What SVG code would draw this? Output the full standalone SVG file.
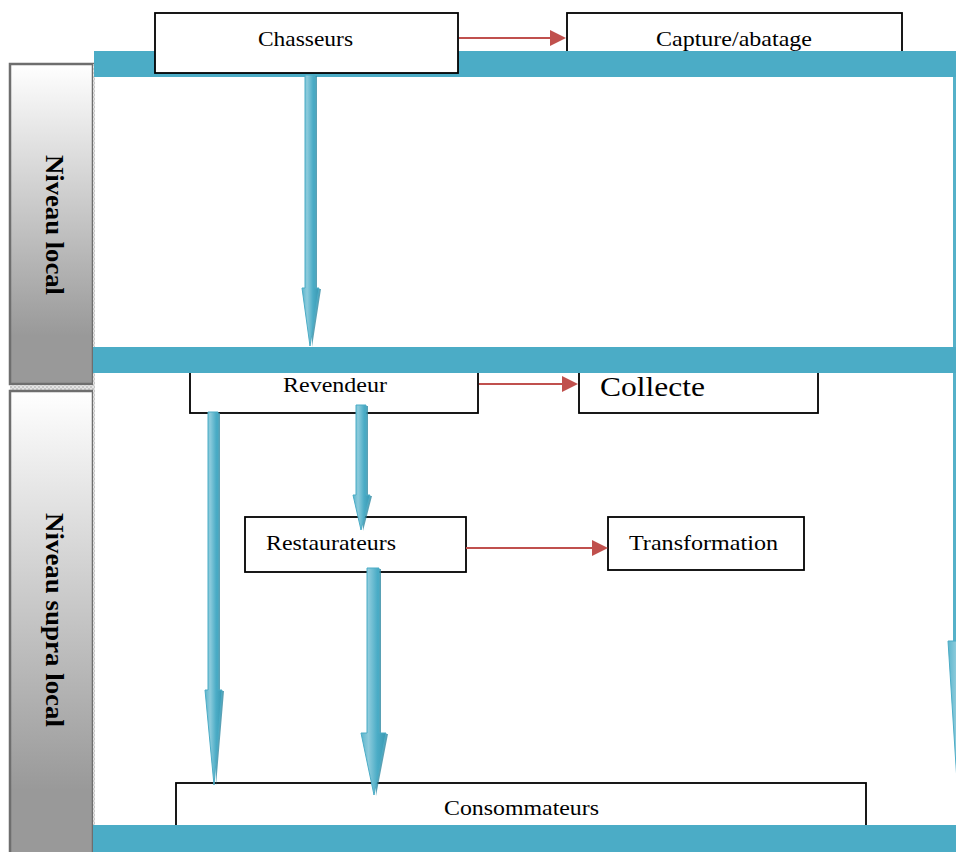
<svg xmlns="http://www.w3.org/2000/svg" width="956" height="852" viewBox="0 0 956 852">
<defs>
  <linearGradient id="panelGrad" x1="0" y1="0" x2="0" y2="1">
    <stop offset="0" stop-color="#ffffff"/>
    <stop offset="0.85" stop-color="#999999"/>
    <stop offset="1" stop-color="#999999"/>
  </linearGradient>
  <linearGradient id="arrowGrad" x1="0" y1="0" x2="1" y2="0">
    <stop offset="0" stop-color="#5db5cc"/>
    <stop offset="0.3" stop-color="#8ccbdc"/>
    <stop offset="0.65" stop-color="#4bacc6"/>
    <stop offset="1" stop-color="#3a98b2"/>
  </linearGradient>
  <pattern id="dots" width="4" height="4" patternUnits="userSpaceOnUse">
    <rect width="4" height="4" fill="#e4e4e4"/>
    <rect width="2" height="2" fill="#c8c8c8"/>
    <rect x="2" y="2" width="2" height="2" fill="#c8c8c8"/>
  </pattern>
  <marker id="redHead" markerUnits="userSpaceOnUse" markerWidth="17" markerHeight="17" refX="1" refY="8" orient="auto">
    <path d="M0,0 L16,8 L0,16 Z" fill="#c0504d"/>
  </marker>
</defs>
<style>
  .box { fill: #ffffff; stroke: #000000; stroke-width: 1.8; }
  .lbl { font-family: "Liberation Serif", "Times New Roman", serif; font-size: 22px; fill: #000000; }
  .big { font-size: 28px; }
  .lane { font-family: "Liberation Serif", "Times New Roman", serif; font-size: 26px; font-weight: bold; fill: #000000; }
  .panel { fill: url(#panelGrad); stroke: #6e6e6e; stroke-width: 2.5; }
  .band { fill: #4bacc6; }
  .edge { fill: #55b1c9; }
  .red { stroke: #c0504d; stroke-width: 2.2; fill: none; marker-end: url(#redHead); }
  .blue { fill: url(#arrowGrad); stroke: #4bacc6; stroke-width: 1; }
  .shadow { fill: #2f8aa3; opacity: 0.8; }
</style>
<rect width="956" height="852" fill="#ffffff"/>

<g id="lanes">
  <rect x="10" y="64" width="83" height="320" class="panel"/>
  <rect x="10" y="385.5" width="83" height="5" fill="url(#dots)"/>
  <rect x="10" y="391" width="83" height="470" class="panel"/>
  <rect x="93" y="64" width="2" height="788" fill="url(#dots)"/>
  <text class="lane" transform="translate(46,225) rotate(90)" text-anchor="middle" textLength="140" lengthAdjust="spacingAndGlyphs">Niveau local</text>
  <text class="lane" transform="translate(46,620) rotate(90)" text-anchor="middle" textLength="214" lengthAdjust="spacingAndGlyphs">Niveau supra local</text>
</g>

<g id="node-capture">
  <rect x="567" y="13" width="335" height="50" class="box"/>
  <text class="lbl" x="656" y="46" textLength="156" lengthAdjust="spacingAndGlyphs">Capture/abatage</text>
</g>
<g id="node-revendeur">
  <rect x="190" y="360" width="288" height="53" class="box"/>
  <text class="lbl" x="283" y="392" textLength="104" lengthAdjust="spacingAndGlyphs">Revendeur</text>
</g>
<g id="node-collecte">
  <rect x="579" y="360" width="239" height="53" class="box"/>
  <text class="lbl big" x="600" y="396" textLength="105" lengthAdjust="spacingAndGlyphs">Collecte</text>
</g>
<g id="node-consommateurs">
  <rect x="176" y="783" width="690" height="60" class="box"/>
  <text class="lbl" x="444" y="815" textLength="155" lengthAdjust="spacingAndGlyphs">Consommateurs</text>
</g>

<g id="bands">
  <rect x="94" y="51" width="862" height="26" class="band"/>
  <rect x="93" y="347" width="863" height="26" class="band"/>
  <rect x="93" y="825" width="863" height="27" class="band"/>
</g>

<g id="node-chasseurs">
  <rect x="155" y="13" width="303" height="60" class="box"/>
  <text class="lbl" x="258" y="46" textLength="95" lengthAdjust="spacingAndGlyphs">Chasseurs</text>
</g>
<g id="node-restaurateurs">
  <rect x="245" y="517" width="221" height="55" class="box"/>
  <text class="lbl" x="266" y="550" textLength="130" lengthAdjust="spacingAndGlyphs">Restaurateurs</text>
</g>
<g id="node-transformation">
  <rect x="608" y="517" width="196" height="53" class="box"/>
  <text class="lbl" x="629" y="550" textLength="149" lengthAdjust="spacingAndGlyphs">Transformation</text>
</g>

<g id="connectors">
  <g id="flow-chasseurs-revendeur">
    <polygon class="shadow" points="308,76 317,76 317,289 321,289 312,347"/>
    <polygon class="blue" points="305,75 315,75 315,288 319,288 310,346 302,288 305,288"/>
  </g>
  <g id="flow-revendeur-consommateurs">
    <polygon class="shadow" points="211,413 220,413 220,691 224,691 216,786"/>
    <polygon class="blue" points="208,412 218,412 218,690 222,690 214,785 205,690 208,690"/>
  </g>
  <g id="flow-revendeur-restaurateurs">
    <polygon class="shadow" points="359,406 368,406 368,496 372,496 363,531"/>
    <polygon class="blue" points="356,405 366,405 366,495 370,495 361,530 353,495 356,495"/>
  </g>
  <g id="flow-restaurateurs-consommateurs">
    <polygon class="shadow" points="370,569 381,569 381,734 388,734 376,796"/>
    <polygon class="blue" points="367,568 379,568 379,733 386,733 374,795 361,733 367,733"/>
  </g>
  <g id="flow-right-edge">
    <rect x="953" y="77" width="3" height="270" class="edge"/>
    <rect x="953" y="373" width="3" height="268" class="edge"/>
    <polygon class="blue" points="948,641 975,641 958,797"/>
  </g>
  <line class="red" x1="459" y1="38" x2="551" y2="38"/>
  <line class="red" x1="479" y1="384" x2="563" y2="384"/>
  <line class="red" x1="466" y1="548" x2="593" y2="548"/>
</g>
</svg>
